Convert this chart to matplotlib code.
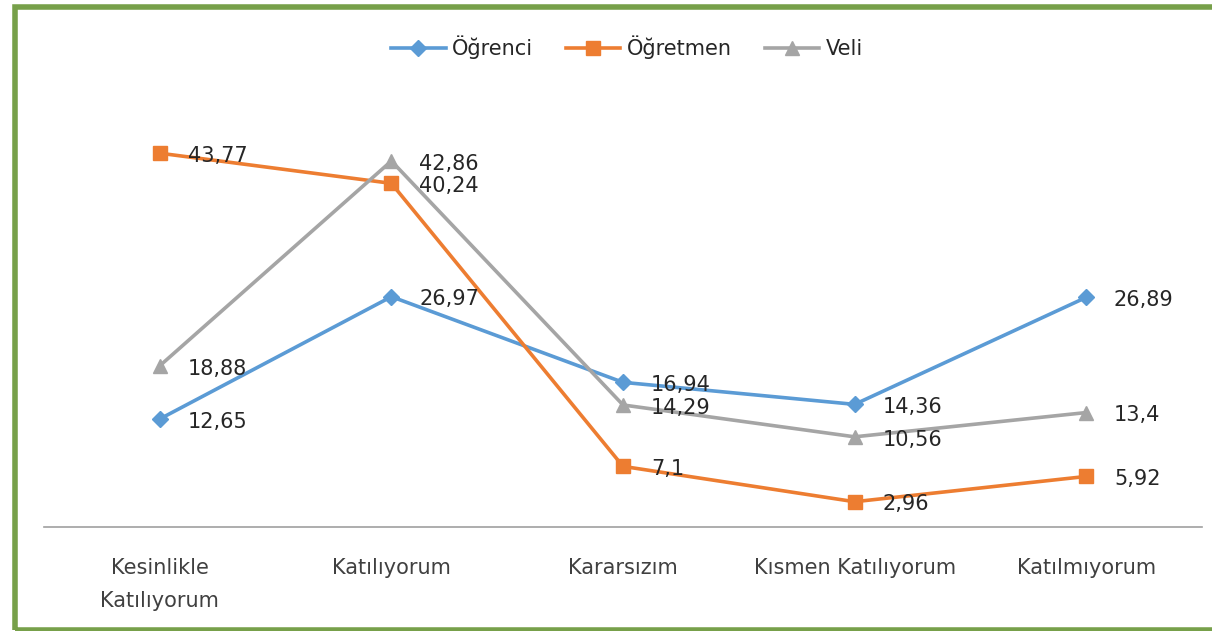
import matplotlib
matplotlib.use('Agg')
import matplotlib.pyplot as plt
from matplotlib.patches import Rectangle

# veriler
kategoriler = ["Kesinlikle\nKatılıyorum", "Katılıyorum", "Kararsızım",
               "Kısmen Katılıyorum", "Katılmıyorum"]
ogrenci = [12.65, 26.97, 16.94, 14.36, 26.89]
ogretmen = [43.77, 40.24, 7.1, 2.96, 5.92]
veli = [18.88, 42.86, 14.29, 10.56, 13.4]

seriler = [
    ("Öğrenci", ogrenci, "#5B9BD5", "D", 8),
    ("Öğretmen", ogretmen, "#ED7D31", "s", 10),
    ("Veli", veli, "#A5A5A5", "^", 10),
]


def etiket(v):
    # virgullu ondalik gosterim
    return ("%g" % v).replace(".", ",")


fig = plt.figure(figsize=(12.12, 6.31), dpi=100)
ax = fig.add_axes([44 / 1212, 104 / 631, 1158 / 1212, 427 / 631])

x = list(range(len(kategoriler)))
for ad, degerler, renk, marker, ms in seriler:
    ax.plot(x, degerler, color=renk, lw=2.6, marker=marker, markersize=ms,
            label=ad, zorder=3)
    for xi, v in zip(x, degerler):
        ax.annotate(etiket(v), (xi, v), xytext=(20, -2), textcoords="offset points",
                    ha="left", va="center", fontsize=15, color="#262626", zorder=4)

ax.set_xlim(-0.5, len(kategoriler) - 0.5)
ax.set_ylim(0, 50)
ax.set_yticks([])
ax.set_xticks(x)
ax.set_xticklabels(kategoriler, fontsize=15, color="#404040", linespacing=1.85)
ax.tick_params(axis="x", length=0, pad=22)
for k in ["top", "right", "left"]:
    ax.spines[k].set_visible(False)
ax.spines["bottom"].set_color("#A0A0A0")
ax.spines["bottom"].set_linewidth(1.2)

ax.legend(loc="center", bbox_to_anchor=(627 / 1212, 1 - 47 / 631),
          bbox_transform=fig.transFigure, ncol=3, frameon=False, fontsize=15,
          handlelength=2.6, columnspacing=1.6, handletextpad=0.3,
          labelcolor="#262626")

# yesil cerceve
fig.patches.append(Rectangle((15 / 1212, 1.5 / 631), 1.0, 623 / 631,
                             transform=fig.transFigure, fill=False,
                             edgecolor="#77A04A", lw=4, zorder=10))

fig.savefig("out.png", dpi=100)
